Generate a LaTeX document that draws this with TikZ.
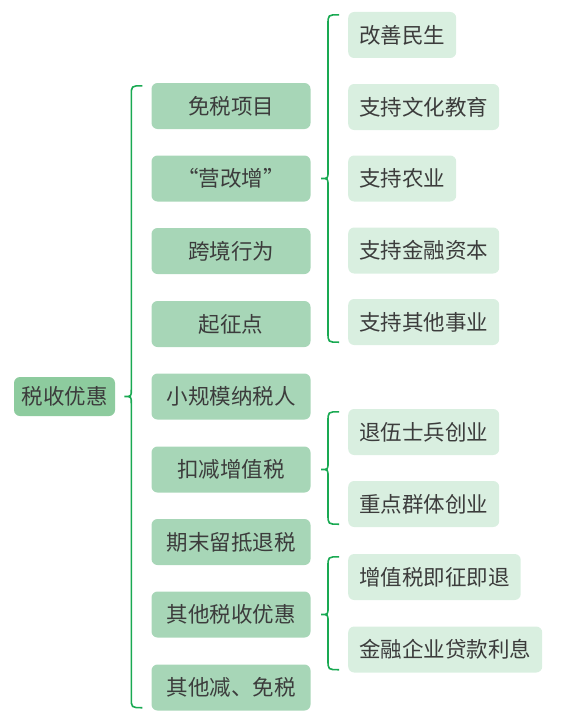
\documentclass[tikz,border=0pt]{standalone}
\usepackage{fontspec}
\usepackage{tikz}
\usetikzlibrary{calc}
\newfontfamily\cjk{Noto Sans CJK SC}
\definecolor{rootcolor}{RGB}{141,203,158}
\definecolor{midcolor}{RGB}{167,214,183}
\definecolor{leafcolor}{RGB}{217,239,224}
\definecolor{bracecolor}{RGB}{25,169,82}
\definecolor{txtcolor}{RGB}{60,60,60}
\tikzset{
  box/.style={rounded corners=6pt, inner xsep=0pt, inner ysep=0pt, minimum height=46pt,
    text=txtcolor, font=\cjk\fontsize{21.5}{25}\selectfont},
  rootbox/.style={box, fill=rootcolor, minimum width=101pt, minimum height=39pt},
  midbox/.style={box, fill=midcolor, minimum width=159pt},
  leafbox/.style={box, fill=leafcolor, anchor=west, inner xsep=11pt},
  brace/.style={draw=bracecolor, line width=1.6pt}
}
\newcommand{\curlybrace}[3]{%
  \draw[brace] let \p1=(#2.north west), \p2=(#3.south west), \p3=(#1.east) in
    (\x1-9pt,\y1-3pt) .. controls (\x1-20pt,\y1-3pt) .. (\x1-20pt,\y1-13pt)
    -- (\x1-20pt,\y3+7pt) .. controls (\x1-20pt,\y3) .. (\x1-27pt,\y3)
    .. controls (\x1-20pt,\y3) .. (\x1-20pt,\y3-7pt)
    -- (\x1-20pt,\y2+13pt) .. controls (\x1-20pt,\y2+3pt) .. (\x1-9pt,\y2+3pt);}
\begin{document}
\begin{tikzpicture}[x=1pt, y=-1pt]
    \useasboundingbox (0,0) rectangle (562,725);
    \node[rootbox] (root) at (64.5,396.5) {税收优惠};
    \node[midbox] (mianshui) at (231,106) {免税项目};
    \node[midbox] (yinggaizeng) at (231,178.5) {“营改增”};
    \node[midbox] (kuajing) at (231,251) {跨境行为};
    \node[midbox] (qizheng) at (231,324) {起征点};
    \node[midbox] (xiaoguimo) at (231,396.5) {小规模纳税人};
    \node[midbox] (koujian) at (231,469.5) {扣减增值税};
    \node[midbox] (qimo) at (231,542) {期末留抵退税};
    \node[midbox] (qitayouhui) at (231,614.5) {其他税收优惠};
    \node[midbox] (qitajianmian) at (231,687.5) {其他减、免税};
    \node[leafbox] (minsheng) at (348,35) {改善民生};
    \node[leafbox] (wenjiao) at (348,107) {支持文化教育};
    \node[leafbox] (nongye) at (348,178.5) {支持农业};
    \node[leafbox] (jinrong) at (348,250.5) {支持金融资本};
    \node[leafbox] (qitashiye) at (348,322) {支持其他事业};
    \node[leafbox] (tuiwu) at (348,432) {退伍士兵创业};
    \node[leafbox] (qunti) at (348,504) {重点群体创业};
    \node[leafbox] (jizheng) at (348,577) {增值税即征即退};
    \node[leafbox] (daikuan) at (348,649.5) {金融企业贷款利息};
    \curlybrace{root}{mianshui}{qitajianmian}
    \curlybrace{yinggaizeng}{minsheng}{qitashiye}
    \curlybrace{koujian}{tuiwu}{qunti}
    \curlybrace{qitayouhui}{jizheng}{daikuan}
\end{tikzpicture}
\end{document}
